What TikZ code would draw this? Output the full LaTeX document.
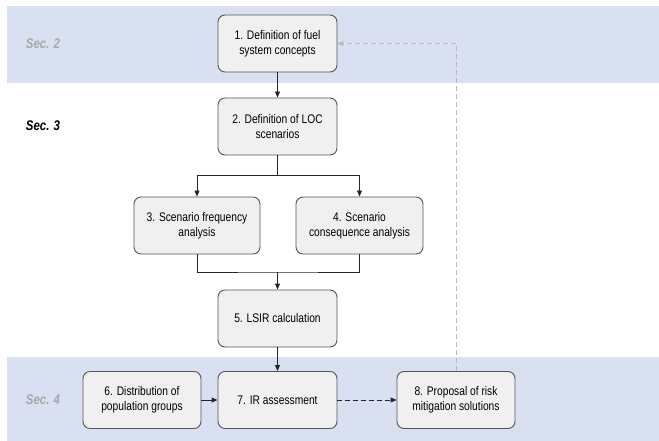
\documentclass[tikz,border=0pt]{standalone}
\usepackage{fontspec}
\setmainfont{Liberation Sans}[FakeStretch=0.82]
\usetikzlibrary{arrows.meta}
\definecolor{bandblue}{RGB}{217,224,242}
\definecolor{boxgray}{RGB}{240,240,240}
\definecolor{edgegray}{RGB}{85,85,85}
\definecolor{secgray}{RGB}{168,168,168}
\definecolor{backgray}{RGB}{185,185,185}
\tikzset{stagebox/.style={draw=edgegray,fill=boxgray,line width=0.9pt,rounded corners=7pt,
    minimum width=119pt,minimum height=57pt,inner sep=0pt,align=center,
    font=\fontsize{12.5}{15}\selectfont}}
\tikzset{seclabel/.style={font=\fontsize{14}{16}\selectfont\bfseries\itshape}}
\tikzset{flow/.style={draw=black!85,line width=0.9pt,-{Triangle[length=6pt,width=5pt]}}}
\tikzset{backflow/.style={draw=backgray,line width=1pt,dash pattern=on 5pt off 3pt,-{Triangle[length=6pt,width=5pt]}}}

\begin{document}
\begin{tikzpicture}[x=1pt,y=-1pt]
      \useasboundingbox (0,0) rectangle (659,441);
      \fill[bandblue] (7,6) rectangle (659,83);
      \fill[bandblue] (7,357) rectangle (659,441);
      \node[seclabel,text=secgray] (sec2) at (43,43.5) {Sec. 2};
      \node[seclabel] (sec3) at (43,126) {Sec. 3};
      \node[seclabel,text=secgray] (sec4) at (43,400) {Sec. 4};
      \node[stagebox] (fuel) at (277.5,43.5) {1. Definition of fuel\\system concepts};
      \node[stagebox] (loc) at (277.5,126.5) {2. Definition of LOC\\scenarios};
      \node[stagebox,minimum width=126pt] (freq) at (197,225.5) {3. Scenario frequency\\analysis};
      \node[stagebox,minimum width=127pt] (cons) at (359.5,225.5) {4. Scenario\\consequence analysis};
      \node[stagebox] (lsir) at (277.5,318.5) {5. LSIR calculation};
      \node[stagebox,minimum width=118pt] (popu) at (142,400) {6. Distribution of\\population groups};
      \node[stagebox] (ir) at (277.5,400) {7. IR assessment};
      \node[stagebox,minimum width=118pt] (miti) at (456,400) {8. Proposal of risk\\mitigation solutions};
      \coordinate (split) at (277.5,175);
      \coordinate (merge) at (277.5,272);
      \draw[flow] (fuel) -- (loc);
      \draw[draw=black!85,line width=0.9pt] (loc) -- (split);
      \draw[flow] (split) -| (freq);
      \draw[flow] (split) -| (cons);
      \draw[draw=black!85,line width=0.9pt] (freq) |- (merge) -| (cons);
      \draw[flow] (merge) -- (lsir);
      \draw[flow] (lsir) -- (ir);
      \draw[flow] (popu) -- (ir);
      \draw[flow,dash pattern=on 5pt off 3pt] (ir) -- (miti);
      \draw[backflow] (miti) |- (fuel);
    \end{tikzpicture}
\end{document}
